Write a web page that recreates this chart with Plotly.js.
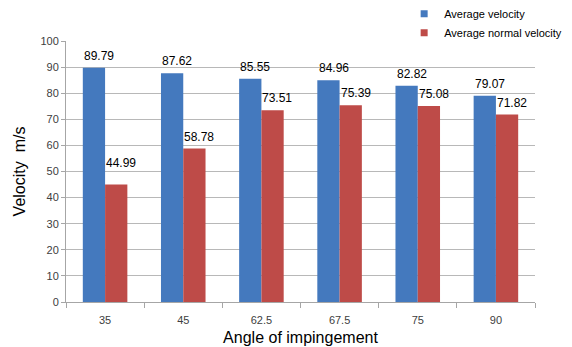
<!DOCTYPE html>
<html>
<head>
<meta charset="utf-8">
<script src="https://cdn.plot.ly/plotly-3.0.1.min.js"></script>
<style>
  html, body { margin: 0; padding: 0; background: #fff; }
  #chart { width: 572px; height: 347px; }
</style>
</head>
<body>
<div id="chart"></div>
<script>
// Impingement angles (degrees) and measured velocities (m/s)
const angles = ["35", "45", "62.5", "67.5", "75", "90"];
const avgVelocity = [89.79, 87.62, 85.55, 84.96, 82.82, 79.07];
const avgNormalVelocity = [44.99, 58.78, 73.51, 75.39, 75.08, 71.82];

const seriesNames = ["Average velocity", "Average normal velocity"];
const seriesColors = ["#4479BE", "#BE4B48"];

// Vertical offset (px) of each value label above its bar
const velocityLabelLift = [12, 12, 12, 12, 12, 12];
const normalLabelLift = [22, 12, 12, 12, 12, 12];

const FONT = "Liberation Sans, Arial, sans-serif";

function barTrace(name, values, color) {
  return {
    type: "bar",
    name: name,
    x: angles,
    y: values,
    marker: { color: color },
    showlegend: false
  };
}

// Small square legend keys (empty scatter traces)
function legendKey(name, color) {
  return {
    type: "scatter",
    mode: "markers",
    name: name,
    x: [null],
    y: [null],
    marker: { symbol: "square", size: 7, color: color },
    showlegend: true
  };
}

const traces = [
  barTrace(seriesNames[0], avgVelocity, seriesColors[0]),
  barTrace(seriesNames[1], avgNormalVelocity, seriesColors[1]),
  legendKey(seriesNames[0], seriesColors[0]),
  legendKey(seriesNames[1], seriesColors[1])
];

// Value labels above each bar, placed at the bar's category slot and value
function valueLabels(values, xshift, lifts) {
  return values.map((v, j) => ({
    x: j, xref: "x",
    y: v, yref: "y",
    text: v.toFixed(2),
    showarrow: false,
    xanchor: "center", yanchor: "middle",
    xshift: xshift, yshift: lifts[j],
    font: { family: FONT, size: 12, color: "#000" }
  }));
}

const annotations = [
  ...valueLabels(avgVelocity, -6, velocityLabelLift),
  ...valueLabels(avgNormalVelocity, 16, normalLabelLift)
];

const layout = {
  width: 572,
  height: 347,
  margin: { l: 66, r: 37, t: 41, b: 45, autoexpand: false },
  paper_bgcolor: "#fff",
  plot_bgcolor: "#fff",
  font: { family: FONT, size: 11, color: "#404040" },
  barmode: "group",
  bargap: 0.43,
  bargroupgap: 0,
  showlegend: true,
  legend: {
    x: 0.721, y: 1.16, xanchor: "left", yanchor: "top",
    font: { family: FONT, size: 11, color: "#000" },
    bgcolor: "rgba(0,0,0,0)",
    itemwidth: 30,
    tracegroupgap: 0
  },
  annotations: annotations,
  xaxis: {
    type: "category",
    categoryorder: "array",
    categoryarray: angles,
    range: [-0.5, angles.length - 0.5],
    tickson: "boundaries",
    ticks: "outside",
    ticklen: 5,
    tickcolor: "#a6a6a6",
    showline: true,
    linecolor: "#a6a6a6",
    showgrid: false,
    ticklabelstandoff: 8,
    tickfont: { family: FONT, size: 11, color: "#404040" },
    title: {
      text: "Angle of impingement",
      font: { family: FONT, size: 16, color: "#000" },
      standoff: 6
    }
  },
  yaxis: {
    range: [0, 100],
    dtick: 10,
    ticks: "outside",
    ticklen: 4,
    tickcolor: "#a6a6a6",
    showline: true,
    linecolor: "#a6a6a6",
    showgrid: true,
    gridcolor: "#b8b8b8",
    zeroline: false,
    tickfont: { family: FONT, size: 11, color: "#404040" },
    title: {
      text: "Velocity&nbsp;&nbsp;m/s",
      font: { family: FONT, size: 16, color: "#000" },
      standoff: 10
    }
  }
};

Plotly.newPlot("chart", traces, layout, { displayModeBar: false, staticPlot: true });
</script>
</body>
</html>
